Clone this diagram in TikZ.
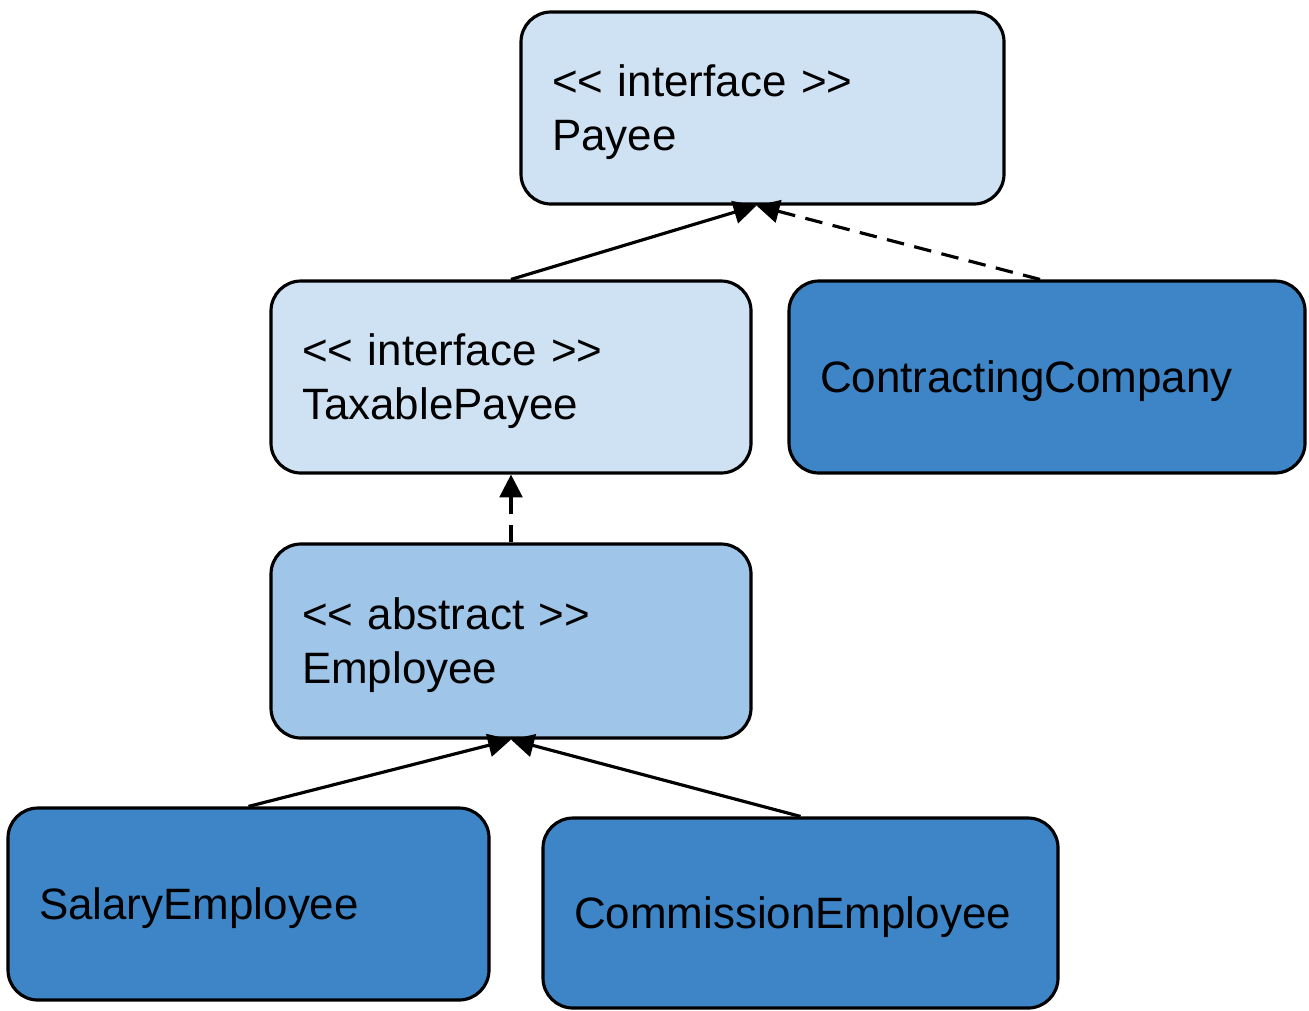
\documentclass[tikz,border=0pt]{standalone}
\usepackage{fontspec}
\setmainfont{Liberation Sans}
\usetikzlibrary{arrows.meta}
\definecolor{lightblue}{HTML}{CFE2F3}
\definecolor{midblue}{HTML}{9FC5E8}
\definecolor{darkblue}{HTML}{3D85C6}
\tikzset{
  box/.style={rectangle,draw,rounded corners=0.3cm,line width=0.9pt,
    inner xsep=0.31cm,align=left,text height=11.4pt,
    font=\fontsize{12.5}{15.2}\selectfont},
  iface/.style={box,fill=lightblue},
  absbox/.style={box,fill=midblue},
  concrete/.style={box,fill=darkblue},
  isa/.style={-{Triangle[length=6.5pt,width=6.5pt]},line width=0.9pt},
  impl/.style={isa,dash pattern=on 5pt off 3pt}
}
\begin{document}
\begin{tikzpicture}
\useasboundingbox (0,0) rectangle (13.09,-10.10);

\node (payee) at (7.625,-1.08) [iface,text width=4.21cm,minimum height=1.92cm] {{<}{<} interface {>}{>}\\Payee};
\node (taxable) at (5.11,-3.77) [iface,text width=4.18cm,minimum height=1.92cm] {{<}{<} interface {>}{>}\\TaxablePayee};
\node (contract) at (10.47,-3.77) [concrete,text width=4.54cm,minimum height=1.92cm] {ContractingCompany};
\node (employee) at (5.11,-6.41) [absbox,text width=4.18cm,minimum height=1.94cm] {{<}{<} abstract {>}{>}\\Employee};
\node (salary) at (2.485,-9.04) [concrete,text width=4.19cm,minimum height=1.92cm] {SalaryEmployee};
\node (commission) at (8.005,-9.13) [concrete,text width=4.53cm,minimum height=1.90cm] {CommissionEmployee};

\draw [isa] (taxable.north) -- ([xshift=-0.06cm]payee.south);
\draw [impl] ([xshift=-0.07cm]contract.north) -- ([xshift=-0.06cm]payee.south);
\draw [impl] (employee.north) -- (taxable.south);
\draw [isa] (salary.north) -- (employee.south);
\draw [isa] (commission.north) -- (employee.south);

\end{tikzpicture}
\end{document}
